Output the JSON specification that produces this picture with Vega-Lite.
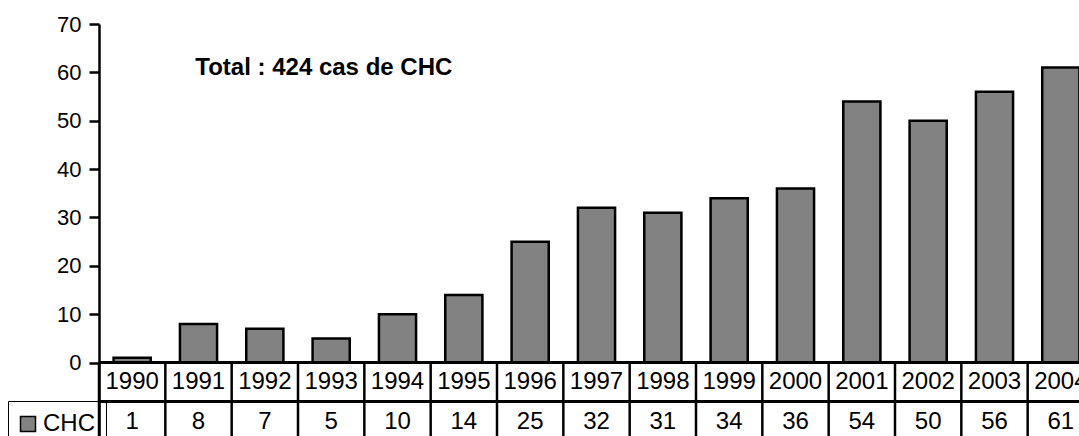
{
  "$schema": "https://vega.github.io/schema/vega-lite/v6.json",
  "width": 995,
  "height": 416,
  "autosize": {"type": "none"},
  "padding": {"left": 99, "top": 24, "right": 0, "bottom": 0},
  "background": "white",
  "config": {
    "view": {"stroke": null},
    "font": "Liberation Sans",
    "axis": {"labelFont": "Liberation Sans"}
  },
  "data": {
    "values": [
      {"year": "1990", "cases": 1, "series": "CHC"},
      {"year": "1991", "cases": 8, "series": "CHC"},
      {"year": "1992", "cases": 7, "series": "CHC"},
      {"year": "1993", "cases": 5, "series": "CHC"},
      {"year": "1994", "cases": 10, "series": "CHC"},
      {"year": "1995", "cases": 14, "series": "CHC"},
      {"year": "1996", "cases": 25, "series": "CHC"},
      {"year": "1997", "cases": 32, "series": "CHC"},
      {"year": "1998", "cases": 31, "series": "CHC"},
      {"year": "1999", "cases": 34, "series": "CHC"},
      {"year": "2000", "cases": 36, "series": "CHC"},
      {"year": "2001", "cases": 54, "series": "CHC"},
      {"year": "2002", "cases": 50, "series": "CHC"},
      {"year": "2003", "cases": 56, "series": "CHC"},
      {"year": "2004", "cases": 61, "series": "CHC"}
    ]
  },
  "encoding": {
    "x": {
      "field": "year",
      "type": "nominal",
      "scale": {"paddingInner": 0, "paddingOuter": 0},
      "axis": null
    }
  },
  "layer": [
    {
      "mark": {"type": "bar", "width": {"band": 0.56}, "stroke": "black", "strokeWidth": 2.5, "opacity": 1},
      "encoding": {
        "y": {
          "field": "cases",
          "type": "quantitative",
          "scale": {"domain": [-16, 70], "nice": false, "zero": false},
          "axis": {
            "title": null,
            "values": [0, 10, 20, 30, 40, 50, 60, 70],
            "grid": false,
            "domainColor": "black",
            "domainWidth": 2.5,
            "tickColor": "black",
            "tickWidth": 2.5,
            "tickSize": 10,
            "labelPadding": 8,
            "labelFontSize": 22,
            "labelColor": "black"
          }
        },
        "color": {
          "field": "series",
          "type": "nominal",
          "scale": {"range": ["#828282"]},
          "legend": {
            "title": null,
            "orient": "none",
            "legendX": -91,
            "legendY": 377,
            "padding": 11,
            "symbolType": "square",
            "symbolSize": 225,
            "symbolStrokeColor": "black",
            "symbolStrokeWidth": 1.5,
            "symbolFillColor": "#828282",
            "symbolOffset": -3,
            "labelFontSize": 24,
            "labelColor": "black",
            "labelOffset": 3,
            "strokeColor": "black",
            "encode": {"legend": {"update": {"strokeWidth": {"value": 2.5}}}}
          }
        }
      }
    },
    {
      "mark": {"type": "rule", "color": "black", "strokeWidth": 2.5},
      "encoding": {"x": null, "y": {"datum": 0}}
    },
    {
      "mark": {"type": "rule", "color": "black", "strokeWidth": 2.5},
      "encoding": {"x": null, "y": {"datum": -8}}
    },
    {
      "mark": {"type": "rule", "color": "black", "strokeWidth": 2.5},
      "encoding": {
        "x": {"field": "year", "type": "nominal", "bandPosition": 0},
        "y": {"datum": 0},
        "y2": {"datum": -16}
      }
    },
    {
      "mark": {"type": "text", "fontSize": 24, "color": "black", "baseline": "middle"},
      "encoding": {
        "y": {"datum": -3.95},
        "text": {"field": "year"}
      }
    },
    {
      "mark": {"type": "text", "fontSize": 24, "color": "black", "baseline": "middle"},
      "encoding": {
        "y": {"datum": -12.2},
        "text": {"field": "cases"}
      }
    },
    {
      "data": {"values": [{"label": "Total : 424 cas de CHC"}]},
      "mark": {"type": "text", "fontSize": 24, "fontWeight": "bold", "color": "black", "align": "left", "baseline": "middle", "dx": 30},
      "encoding": {
        "x": {"datum": "1991", "bandPosition": 0},
        "y": {"datum": 61},
        "text": {"field": "label"}
      }
    }
  ]
}
